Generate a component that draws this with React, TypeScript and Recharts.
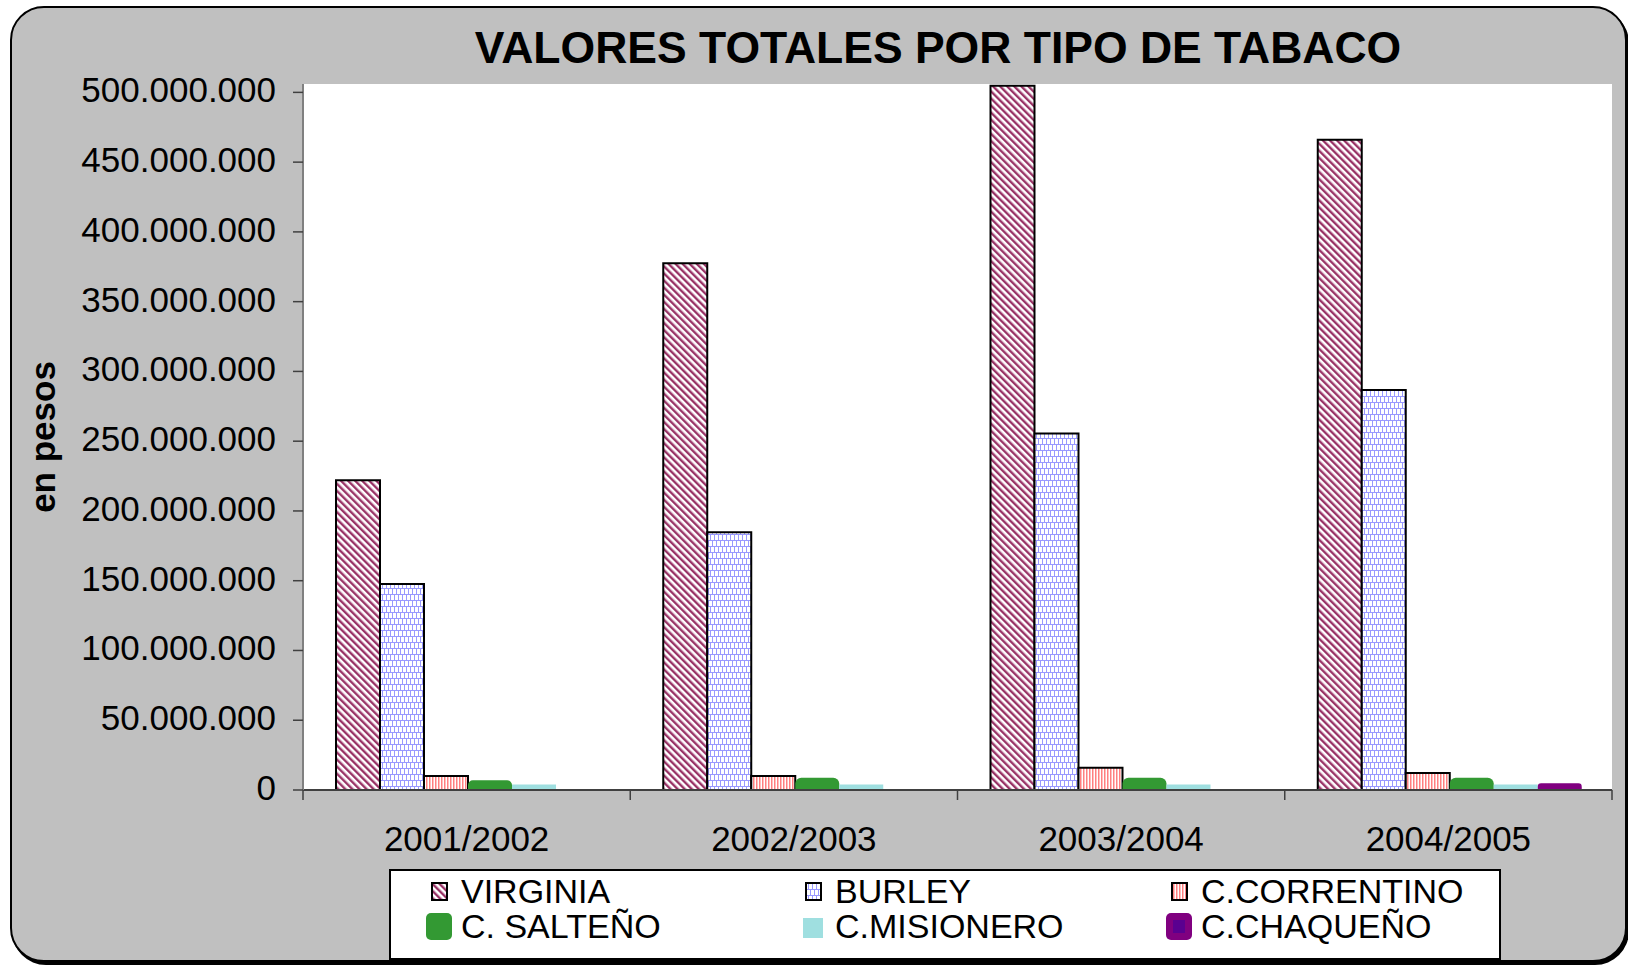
import React from 'react';
import { Bar, BarChart, Legend, XAxis, YAxis } from 'recharts';

const SEASONS = ['2001/2002', '2002/2003', '2003/2004', '2004/2005'];
const VIRGINIA = [222000000, 377500000, 504700000, 466000000];
const BURLEY = [147600000, 184800000, 255500000, 286700000];
const CORRENTINO = [10000000, 10000000, 16000000, 12200000];
const SALTENO = [7000000, 8800000, 8800000, 8800000];
const MISIONERO = [4000000, 4000000, 4000000, 4000000];
const CHAQUENO = [0, 0, 0, 4800000];
const Y_TICKS = [0, 50000000, 100000000, 150000000, 200000000, 250000000, 300000000, 350000000, 400000000, 450000000, 500000000];
const Y_MAX = 506000000;

const FONT = '"Liberation Sans", Arial, Helvetica, sans-serif';

interface SeriesDef {
  key: string;
  name: string;
  values: number[];
  fill: string;
  stroke?: string;
  rounded?: boolean;
  icon: 'pattern' | 'round' | 'square';
}

const SERIES: SeriesDef[] = [
  { key: 'virginia', name: 'VIRGINIA', values: VIRGINIA, fill: 'url(#pat-virginia)', stroke: '#000', icon: 'pattern' },
  { key: 'burley', name: 'BURLEY', values: BURLEY, fill: 'url(#pat-burley)', stroke: '#000', icon: 'pattern' },
  { key: 'correntino', name: 'C.CORRENTINO', values: CORRENTINO, fill: 'url(#pat-correntino)', stroke: '#000', icon: 'pattern' },
  { key: 'salteno', name: 'C. SALTEÑO', values: SALTENO, fill: '#339933', rounded: true, icon: 'round' },
  { key: 'misionero', name: 'C.MISIONERO', values: MISIONERO, fill: '#9fdfe0', icon: 'square' },
  { key: 'chaqueno', name: 'C.CHAQUEÑO', values: CHAQUENO, fill: '#800080', rounded: true, icon: 'round' },
];

const data = SEASONS.map((season, i) => {
  const row: Record<string, string | number> = { season };
  SERIES.forEach((s) => {
    row[s.key] = s.values[i];
  });
  return row;
});

function formatPesos(value: number): string {
  return String(value).replace(/\B(?=(\d{3})+(?!\d))/g, '.');
}

function SeasonTick(props: any) {
  const { x, y, payload, index } = props;
  const half = payload && typeof payload.offset === 'number' ? payload.offset : 0;
  const last = index === SEASONS.length - 1;
  return (
    <g>
      {half > 0 ? <line x1={x - half} x2={x - half} y1={y} y2={y + 10} stroke="#404040" strokeWidth={1.5} /> : null}
      {half > 0 && last ? <line x1={x + half} x2={x + half} y1={y} y2={y + 10} stroke="#404040" strokeWidth={1.5} /> : null}
      <text x={x} y={y + 61} textAnchor="middle" fontSize={35} fill="#000">
        {payload.value}
      </text>
    </g>
  );
}

function PesosTick(props: any) {
  const { x, y, payload } = props;
  return (
    <text x={x} y={y} dy={10} textAnchor="end" fontSize={35} fill="#000">
      {formatPesos(payload.value)}
    </text>
  );
}

function YLabel(props: any) {
  const vb = props.viewBox || { x: 0, y: 84, width: 303, height: 706 };
  const cx = 55;
  const cy = vb.y + vb.height / 2;
  return (
    <text x={cx} y={cy} transform={`rotate(-90 ${cx} ${cy})`} textAnchor="middle" fontSize={35} fontWeight="bold" fill="#000">
      en pesos
    </text>
  );
}

function LegendIcon({ s }: { s: SeriesDef }) {
  if (s.icon === 'pattern') {
    return (
      <svg width={30} height={30} style={{ display: 'block' }}>
        <rect x={8} y={6} width={15} height={17} fill={s.fill} stroke="#000" strokeWidth={2} />
      </svg>
    );
  }
  if (s.icon === 'round') {
    return (
      <svg width={30} height={30} style={{ display: 'block' }}>
        <rect x={2} y={1} width={26} height={27} rx={5} fill={s.fill} />
        {s.key === 'chaqueno' ? <rect x={9} y={8} width={12} height={13} fill="#5a0090" /> : null}
      </svg>
    );
  }
  return (
    <svg width={30} height={30} style={{ display: 'block' }}>
      <rect x={5} y={6} width={20} height={20} fill={s.fill} />
    </svg>
  );
}

function LegendBox() {
  return (
    <div
      style={{
        boxSizing: 'border-box',
        width: 1112,
        height: 91,
        background: '#fff',
        border: '2px solid #000',
        paddingTop: 3,
        paddingLeft: 33,
        display: 'grid',
        gridTemplateColumns: '374px 366px 1fr',
        gridTemplateRows: '35px 35px',
        alignContent: 'start',
        fontFamily: FONT,
        fontSize: 34,
        lineHeight: '35px',
        color: '#000',
      }}
    >
      {SERIES.map((s) => (
        <div key={s.key} style={{ display: 'flex', alignItems: 'center', height: 35 }}>
          <LegendIcon s={s} />
          <span style={{ marginLeft: 7, whiteSpace: 'nowrap' }}>{s.name}</span>
        </div>
      ))}
    </div>
  );
}

export default function App() {
  return (
    <div style={{ position: 'absolute', left: 0, top: 0, width: 1628, height: 965, overflow: 'hidden', fontFamily: FONT }}>
      <div
        style={{
          position: 'absolute',
          left: 10,
          top: 6,
          width: 1617,
          height: 956,
          boxSizing: 'border-box',
          background: '#c0c0c0',
          border: '2px solid #000',
          borderRadius: 34,
          boxShadow: '2px 3px 0 #000',
        }}
      />
      <div
        style={{
          position: 'absolute',
          left: 438,
          top: 23,
          width: 1000,
          textAlign: 'center',
          fontSize: 44.5,
          lineHeight: '50px',
          fontWeight: 'bold',
          color: '#000',
          whiteSpace: 'nowrap',
        }}
      >
        VALORES TOTALES POR TIPO DE TABACO
      </div>
      <div style={{ position: 'absolute', left: 0, top: 0 }}>
        <BarChart
          width={1628}
          height={965}
          data={data}
          margin={{ top: 84, right: 16, bottom: 115, left: 0 }}
          barCategoryGap={33}
          barGap={0}
        >
          <defs>
            <pattern id="pat-virginia" width={5} height={5} patternUnits="userSpaceOnUse" patternTransform="rotate(-45)">
              <rect width={5} height={5} fill="#fff" />
              <rect width={2.4} height={5} fill="#993366" />
            </pattern>
            <pattern id="pat-burley" width={4} height={12} patternUnits="userSpaceOnUse">
              <rect width={4} height={12} fill="#fff" />
              <rect x={0} y={0} width={4} height={1} fill="#9999ff" />
              <rect x={0} y={6} width={4} height={1} fill="#9999ff" />
              <rect x={0} y={0} width={1} height={6} fill="#9999ff" />
              <rect x={2} y={6} width={1} height={6} fill="#9999ff" />
            </pattern>
            <pattern id="pat-correntino" width={3} height={4} patternUnits="userSpaceOnUse">
              <rect width={3} height={4} fill="#fff" />
              <rect width={1.5} height={4} fill="#ff8080" />
            </pattern>
          </defs>
          <rect x={303} y={84} width={1309} height={706} fill="#fff" />
          <XAxis
            dataKey="season"
            height={60}
            tickLine={false}
            tickSize={0}
            tickMargin={0}
            axisLine={{ stroke: '#404040', strokeWidth: 2 }}
            tick={<SeasonTick />}
            interval={0}
          />
          <XAxis xAxisId="top" dataKey="season" orientation="top" height={0} tick={false} tickLine={false} axisLine={{ stroke: '#808080', strokeWidth: 2 }} />
          <YAxis
            domain={[0, Y_MAX]}
            ticks={Y_TICKS}
            interval={0}
            width={303}
            tickSize={10}
            tickMargin={17}
            tick={<PesosTick />}
            tickLine={{ stroke: '#404040', strokeWidth: 1.5 }}
            axisLine={{ stroke: '#808080', strokeWidth: 2 }}
            allowDataOverflow
            label={YLabel}
          />
          <YAxis yAxisId="right" orientation="right" width={0} tick={false} tickLine={false} axisLine={{ stroke: '#808080', strokeWidth: 2 }} />
          {SERIES.map((s) => (
            <Bar
              key={s.key}
              dataKey={s.key}
              name={s.name}
              fill={s.fill}
              stroke={s.stroke}
              strokeWidth={s.stroke ? 2 : 0}
              radius={s.rounded ? [6, 6, 0, 0] : 0}
              isAnimationActive={false}
            />
          ))}
          <Legend
            layout="horizontal"
            verticalAlign="middle"
            align="center"
            content={() => <LegendBox />}
            wrapperStyle={{ position: 'absolute', left: 389, top: 869, width: 1112, height: 91, margin: 0 }}
          />
        </BarChart>
      </div>
    </div>
  );
}
